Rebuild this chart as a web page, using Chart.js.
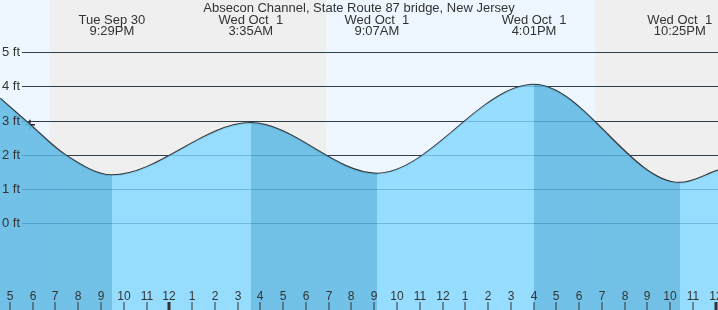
<!DOCTYPE html>
<html>
<head>
<meta charset="utf-8">
<script src="https://cdn.jsdelivr.net/npm/chart.js@4/dist/chart.umd.min.js"></script>
<style>
  html, body { margin: 0; padding: 0; background: #fff; }
  canvas { display: block; }
</style>
</head>
<body>
<canvas id="tideChart" width="718" height="310"></canvas>
<script>
// hours counted from midnight Wed Oct 1 (negative = Tue Sep 30 evening)
const curveHours = [-7.435, -6.12, -4.58, -2.52, 3.58, 9.12, 16.02, 22.42, 24.1];
const curveFeet = [3.65, 2.88, 2.0, 1.40, 2.93, 1.45, 4.05, 1.18, 1.54];

const eventHours = [-2.52, 3.58, 9.12, 16.02, 22.42];
const eventKinds = ['low', 'high', 'low', 'high', 'low'];
const eventDays = ['Tue Sep 30', 'Wed Oct  1', 'Wed Oct  1', 'Wed Oct  1', 'Wed Oct  1'];
const eventTimes = ['9:29PM', '3:35AM', '9:07AM', '4:01PM', '10:25PM'];

// sunset, sunrise, sunset
const sunHours = [-5.27, 6.91, 18.70];

const nowHour = -6.12;
const nowFeet = 2.88;

const yTicks = [0, 1, 2, 3, 4, 5];
const firstTickHour = -7;
const xTickLabels = ['5', '6', '7', '8', '9', '10', '11',
  '12', '1', '2', '3', '4', '5', '6', '7', '8', '9', '10', '11',
  '12', '1', '2', '3', '4', '5', '6', '7', '8', '9', '10', '11', '12'];

const title = 'Absecon Channel, State Route 87 bridge, New Jersey';

const darkFill = 'rgba(100,187,229,0.9)';
const lightFill = 'rgba(140,218,255,0.9)';
const dayBg = '#eef7ff';
const nightBg = '#efefef';
const textColor = '#333';
const FONT = '"Liberation Sans", Arial, sans-serif';

const points = curveHours.map((h, i) => ({ x: h, y: curveFeet[i] }));

// falling tide = darker blue, rising = lighter
function fillGradient(context) {
  const chart = context.chart;
  const area = chart.chartArea;
  if (!area) return lightFill;
  const xs = chart.scales.x;
  const g = chart.ctx.createLinearGradient(area.left, 0, area.right, 0);
  let prev = 0;
  eventHours.forEach((h, i) => {
    let f = (xs.getPixelForValue(h) - area.left) / area.width;
    f = Math.min(1, Math.max(0, f));
    const c = eventKinds[i] === 'low' ? darkFill : lightFill;
    g.addColorStop(prev, c);
    g.addColorStop(f, c);
    prev = f;
  });
  const last = eventKinds[eventKinds.length - 1] === 'low' ? lightFill : darkFill;
  g.addColorStop(prev, last);
  g.addColorStop(1, last);
  return g;
}

const tidePlugin = {
  id: 'tide',
  beforeDatasetsDraw(chart) {
    const { ctx, chartArea: a, scales: { x, y } } = chart;
    ctx.save();
    // day / night bands
    const edges = [a.left, ...sunHours.map(h => x.getPixelForValue(h)), a.right];
    for (let i = 0; i < edges.length - 1; i++) {
      ctx.fillStyle = i % 2 === 0 ? dayBg : nightBg;
      ctx.fillRect(edges[i], a.top, edges[i + 1] - edges[i], a.bottom - a.top);
    }
    // grid lines
    ctx.strokeStyle = '#333';
    ctx.lineWidth = 1;
    yTicks.forEach(v => {
      const py = Math.round(y.getPixelForValue(v)) + 0.5;
      ctx.beginPath();
      ctx.moveTo(22, py);
      ctx.lineTo(a.right, py);
      ctx.stroke();
    });
    ctx.restore();
  },
  afterDatasetDraw(chart, args) {
    if (args.index !== 0) return;
    const { ctx, chartArea: a, scales: { y } } = chart;
    ctx.save();
    ctx.strokeStyle = 'rgba(30,110,170,0.2)';
    ctx.lineWidth = 1;
    yTicks.forEach(v => {
      const py = Math.round(y.getPixelForValue(v)) + 0.5;
      ctx.beginPath();
      ctx.moveTo(22, py);
      ctx.lineTo(a.right, py);
      ctx.stroke();
    });
    ctx.restore();
  },
  afterDatasetsDraw(chart) {
    const { ctx, chartArea: a, scales: { x, y } } = chart;
    ctx.save();
    ctx.fillStyle = textColor;

    // y labels
    ctx.font = '13px ' + FONT;
    ctx.textAlign = 'left';
    ctx.textBaseline = 'alphabetic';
    yTicks.forEach(v => {
      ctx.fillText(v + ' ft', 2, Math.round(y.getPixelForValue(v)) + 4);
    });

    // hour ticks
    ctx.font = '12px ' + FONT;
    ctx.textAlign = 'center';
    xTickLabels.forEach((lab, i) => {
      const h = firstTickHour + i;
      const px = Math.round(x.getPixelForValue(h));
      ctx.fillText(lab, px, 300);
      if (h % 24 === 0) {
        ctx.fillRect(px - 1.5, 302, 3, 8);
      } else {
        ctx.fillRect(px - 0.5, 302, 1, 8);
      }
    });

    // title and high/low labels
    ctx.font = '13px ' + FONT;
    ctx.fillText(title, (a.left + a.right) / 2, 12);
    eventHours.forEach((h, i) => {
      const px = x.getPixelForValue(h);
      ctx.fillText(eventDays[i], px, 24);
      ctx.fillText(eventTimes[i], px, 35);
    });
    ctx.restore();
  }
};

new Chart(document.getElementById('tideChart'), {
  type: 'line',
  data: {
    datasets: [
      {
        data: points,
        fill: 'start',
        backgroundColor: fillGradient,
        borderColor: 'transparent',
        borderWidth: 0,
        pointRadius: 0,
        cubicInterpolationMode: 'monotone'
      },
      {
        data: points,
        fill: false,
        borderColor: '#333',
        borderWidth: 2,
        pointRadius: 0,
        cubicInterpolationMode: 'monotone'
      },
      {
        data: [{ x: nowHour, y: nowFeet }],
        showLine: false,
        pointStyle: 'cross',
        pointRadius: 5,
        borderColor: '#222',
        borderWidth: 1.5
      }
    ]
  },
  options: {
    responsive: false,
    animation: false,
    devicePixelRatio: 1,
    layout: { padding: 0, autoPadding: false },
    plugins: {
      legend: { display: false },
      tooltip: { enabled: false }
    },
    scales: {
      x: { type: 'linear', min: -7.435, max: 24.1, display: false },
      y: { min: -2.54, max: 6.53, display: false }
    }
  },
  plugins: [tidePlugin]
});
</script>
</body>
</html>
